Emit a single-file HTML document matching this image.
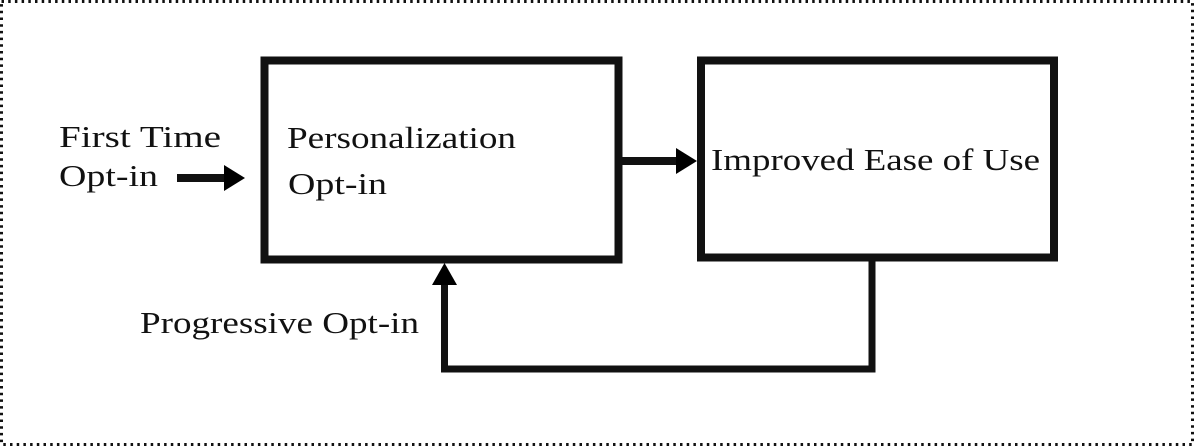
<!DOCTYPE html>
<html><head><style>
html,body{margin:0;padding:0;background:#fff;}
svg{display:block;}
text{font-family:"Liberation Serif",serif;font-size:31px;fill:#111;}
</style></head><body>
<svg width="1194" height="446" viewBox="0 0 1194 446" xmlns="http://www.w3.org/2000/svg">
<rect x="1.5" y="1.5" width="1191" height="443" fill="none" stroke="#111" stroke-width="3" stroke-dasharray="2.5 4.2"/>
<rect x="264.5" y="60.5" width="354" height="199" fill="none" stroke="#111" stroke-width="8"/>
<rect x="701" y="60.5" width="353" height="197" fill="none" stroke="#111" stroke-width="8"/>
<line x1="177" y1="178" x2="226" y2="178" stroke="#111" stroke-width="8"/>
<polygon points="224,165 245,178 224,191" fill="#000"/>
<line x1="622" y1="161" x2="678" y2="161" stroke="#111" stroke-width="8"/>
<polygon points="676,148 697,161 676,174" fill="#000"/>
<polyline points="872,261 872,369 444.5,369 444.5,282" fill="none" stroke="#111" stroke-width="7"/>
<polygon points="432,285 444.5,263 457,285" fill="#000"/>
<text x="59" y="147" textLength="162" lengthAdjust="spacingAndGlyphs">First Time</text>
<text x="59" y="186" textLength="99" lengthAdjust="spacingAndGlyphs">Opt-in</text>
<text x="287" y="148" textLength="229" lengthAdjust="spacingAndGlyphs">Personalization</text>
<text x="288" y="194" textLength="99" lengthAdjust="spacingAndGlyphs">Opt-in</text>
<text x="711" y="170" textLength="329" lengthAdjust="spacingAndGlyphs">Improved Ease of Use</text>
<text x="140" y="333" textLength="279" lengthAdjust="spacingAndGlyphs">Progressive Opt-in</text>
</svg>
</body></html>
